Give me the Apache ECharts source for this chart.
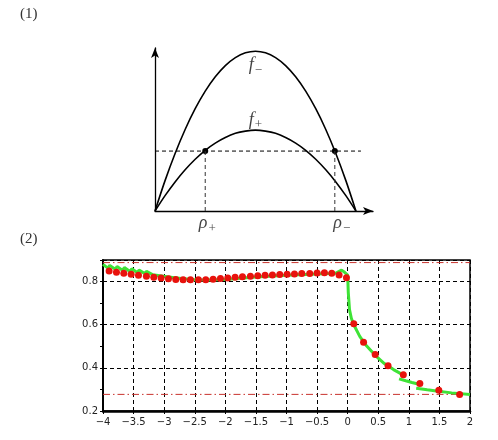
<!DOCTYPE html>
<html lang="en">
<head>
    <meta charset="UTF-8">
    <title>Flux curves</title>
    <script src="https://cdn.jsdelivr.net/npm/echarts@6/dist/echarts.min.js"></script>
    <style>
        html, body { margin: 0; padding: 0; background: #fff; }
        #container { width: 498px; height: 440px; }
    </style>
</head>
<body>
<div id="container"></div>
<script type="text/javascript">
// ---- panel (1): the two flux parabolas ----
var rhoX = [0, 0.05, 0.1, 0.15, 0.2, 0.25, 0.3, 0.35, 0.4, 0.45, 0.5, 0.55, 0.6, 0.65, 0.7, 0.75, 0.8, 0.85, 0.9, 0.95, 1];
var fMinus = [0, 0.19, 0.36, 0.51, 0.64, 0.75, 0.84, 0.91, 0.96, 0.99, 1.0, 0.99, 0.96, 0.91, 0.84, 0.75, 0.64, 0.51, 0.36, 0.19, 0];
var fPlus = [0, 0.096, 0.182, 0.258, 0.324, 0.38, 0.425, 0.46, 0.486, 0.5, 0.506, 0.5, 0.486, 0.46, 0.425, 0.38, 0.324, 0.258, 0.182, 0.096, 0];
var fluxLevel = 0.375;
var rhoPlus = 0.25;
var rhoMinus = 0.895;

// ---- panel (2): measured points and computed solution ----
var dotX = [-3.90, -3.78, -3.66, -3.54, -3.42, -3.29, -3.17, -3.05, -2.93, -2.81, -2.69, -2.57, -2.44,
    -2.32, -2.20, -2.08, -1.96, -1.84, -1.72, -1.59, -1.47, -1.35, -1.23, -1.11, -0.99, -0.87, -0.75,
    -0.62, -0.50, -0.38, -0.26, -0.14, -0.02, 0.10, 0.26, 0.45, 0.66, 0.91, 1.18, 1.49, 1.83];
var dotY = [0.849, 0.843, 0.838, 0.834, 0.829, 0.825, 0.820, 0.816, 0.813, 0.810, 0.809, 0.808, 0.808,
    0.809, 0.811, 0.814, 0.817, 0.820, 0.822, 0.825, 0.827, 0.829, 0.831, 0.833, 0.834, 0.835, 0.837,
    0.837, 0.840, 0.841, 0.838, 0.831, 0.818, 0.605, 0.519, 0.462, 0.410, 0.368, 0.328, 0.296, 0.277];

var greenAX = [-4.00, -3.92, -3.89, -3.80, -3.77, -3.68, -3.65, -3.56, -3.53, -3.44, -3.41, -3.32,
    -3.29, -3.19, -3.16, -3.07, -3.04, -2.95, -2.92, -2.83, -2.80, -2.71, -2.68, -2.59,
    -2.50, -2.30, -2.00, -1.50, -1.00, -0.50, -0.20, -0.10, -0.05, 0.00, 0.01, 0.03, 0.06, 0.10,
    0.20, 0.30, 0.45, 0.60, 0.75, 0.92];
var greenAY = [0.880, 0.862, 0.875, 0.857, 0.870, 0.852, 0.865, 0.847, 0.859, 0.842, 0.853, 0.837,
    0.847, 0.832, 0.841, 0.827, 0.835, 0.822, 0.829, 0.818, 0.823, 0.814, 0.817, 0.811,
    0.808, 0.807, 0.810, 0.821, 0.829, 0.835, 0.838, 0.853, 0.843, 0.830, 0.75, 0.67, 0.63, 0.600,
    0.545, 0.505, 0.458, 0.420, 0.392, 0.365];
var greenBX = [0.84, 0.95, 1.05, 1.15];
var greenBY = [0.349, 0.340, 0.332, 0.325];
var greenCX = [1.12, 1.30, 1.45, 1.70, 2.00];
var greenCY = [0.305, 0.298, 0.293, 0.284, 0.277];

var upperBound = 0.888;
var lowerBound = 0.277;

function zip(xs, ys) {
    var out = [];
    for (var i = 0; i < xs.length; i++) out.push([xs[i], ys[i]]);
    return out;
}

var dom = document.getElementById("container");
var myChart = echarts.init(dom, null, {renderer: 'canvas'});

var serif = '"Liberation Serif", "DejaVu Serif", serif';
var dash = [4, 3];

var subRich = {
    f: {fontFamily: serif, fontStyle: 'italic', fontSize: 18, color: '#111'},
    s: {fontFamily: serif, fontSize: 13, color: '#111', padding: [10, 0, 0, 1]}
};

option = {
    animation: false,
    graphic: [
        {type: 'text', left: 20, top: 7, style: {text: '(1)', font: '15px ' + serif, fill: '#333'}},
        {type: 'text', left: 20, top: 232, style: {text: '(2)', font: '15px ' + serif, fill: '#333'}}
    ],
    grid: [
        {left: 155, top: 48, width: 218, height: 163},
        {left: 103, top: 260, width: 367, height: 151, show: true, borderColor: '#000', borderWidth: 1.5}
    ],
    xAxis: [
        {
            gridIndex: 0, type: 'value', min: 0, max: 1.085,
            axisLine: {lineStyle: {color: '#000', width: 1.3}, symbol: ['none', 'arrow'], symbolSize: [6, 10]},
            axisTick: {show: false}, axisLabel: {show: false}, splitLine: {show: false}
        },
        {
            gridIndex: 1, type: 'value', min: -4, max: 2, interval: 0.5,
            axisLine: {onZero: false, lineStyle: {color: '#000', width: 2.5}},
            axisTick: {show: true, length: 3, lineStyle: {color: '#000'}},
            axisLabel: {
                margin: 6, fontSize: 10, color: '#222', fontFamily: 'DejaVu Sans',
                formatter: function (v) { return String(v).replace('-', '\u2212'); }
            },
            splitLine: {show: true, lineStyle: {color: '#000', type: dash, width: 1}}
        }
    ],
    yAxis: [
        {
            gridIndex: 0, type: 'value', min: 0, max: 1.02,
            axisLine: {lineStyle: {color: '#000', width: 1.3}, symbol: ['none', 'arrow'], symbolSize: [6, 10]},
            axisTick: {show: false}, axisLabel: {show: false}, splitLine: {show: false}
        },
        {
            gridIndex: 1, type: 'value', min: 0.2, max: 0.9, interval: 0.2,
            axisLine: {show: true, onZero: false, lineStyle: {color: '#000', width: 2}},
            axisTick: {show: true, length: 3, lineStyle: {color: '#000'}},
            minorTick: {show: true, splitNumber: 2, length: 3, lineStyle: {color: '#000'}},
            axisLabel: {margin: 5, fontSize: 10, color: '#222', fontFamily: 'DejaVu Sans', showMaxLabel: false},
            splitLine: {show: true, lineStyle: {color: '#000', type: dash, width: 1}}
        }
    ],
    series: [
        {
            type: 'line', xAxisIndex: 0, yAxisIndex: 0, data: zip(rhoX, fMinus), smooth: 0.3,
            symbol: 'none', lineStyle: {color: '#000', width: 1.6}
        },
        {
            type: 'line', xAxisIndex: 0, yAxisIndex: 0, data: zip(rhoX, fPlus), smooth: 0.3,
            symbol: 'none', lineStyle: {color: '#000', width: 1.6}
        },
        {
            type: 'line', xAxisIndex: 0, yAxisIndex: 0, data: [[0, fluxLevel], [1.025, fluxLevel]],
            symbol: 'none', lineStyle: {color: '#000', width: 1, type: dash}
        },
        {
            type: 'line', xAxisIndex: 0, yAxisIndex: 0, data: [[rhoPlus, 0], [rhoPlus, fluxLevel]],
            symbol: 'none', lineStyle: {color: '#333', width: 1, type: dash}
        },
        {
            type: 'line', xAxisIndex: 0, yAxisIndex: 0, data: [[rhoMinus, 0], [rhoMinus, fluxLevel]],
            symbol: 'none', lineStyle: {color: '#333', width: 1, type: dash}
        },
        {
            type: 'scatter', xAxisIndex: 0, yAxisIndex: 0, symbolSize: 6,
            data: [[rhoPlus, fluxLevel], [rhoMinus, fluxLevel]], itemStyle: {color: '#000', opacity: 1}
        },
        {
            type: 'scatter', xAxisIndex: 0, yAxisIndex: 0, symbolSize: 0, silent: true,
            data: [
                {value: [0.5, 0.91], label: {formatter: '{f|f}{s|\u2212}'}},
                {value: [0.5, 0.57], label: {formatter: '{f|f}{s|+}'}},
                {value: [rhoPlus, 0], label: {formatter: '{f|\u03c1}{s|+}', position: 'bottom', distance: 1, offset: [2, 0]}},
                {value: [0.93, 0], label: {formatter: '{f|\u03c1}{s|\u2212}', position: 'bottom', distance: 1, offset: [0, 0]}}
            ],
            label: {show: true, position: 'inside', rich: subRich}
        },
        {
            type: 'line', xAxisIndex: 1, yAxisIndex: 1, data: [[-4, upperBound], [2, upperBound]],
            symbol: 'none', lineStyle: {color: '#c8322d', width: 1, type: [7, 3, 1.5, 3]}
        },
        {
            type: 'line', xAxisIndex: 1, yAxisIndex: 1, data: [[-4, lowerBound], [2, lowerBound]],
            symbol: 'none', lineStyle: {color: '#c8322d', width: 1, type: [7, 3, 1.5, 3]}
        },
        {
            type: 'line', xAxisIndex: 1, yAxisIndex: 1, data: zip(greenAX, greenAY),
            symbol: 'none', lineStyle: {color: '#3ee336', width: 3}
        },
        {
            type: 'line', xAxisIndex: 1, yAxisIndex: 1, data: zip(greenBX, greenBY),
            symbol: 'none', lineStyle: {color: '#3ee336', width: 3}
        },
        {
            type: 'line', xAxisIndex: 1, yAxisIndex: 1, data: zip(greenCX, greenCY),
            symbol: 'none', lineStyle: {color: '#3ee336', width: 3}
        },
        {
            type: 'scatter', xAxisIndex: 1, yAxisIndex: 1, data: zip(dotX, dotY),
            symbolSize: 7, itemStyle: {color: '#e8120c', opacity: 1}, z: 5
        }
    ]
};

if (option && typeof option === "object") {
    myChart.setOption(option, true);
}
</script>
</body>
</html>
